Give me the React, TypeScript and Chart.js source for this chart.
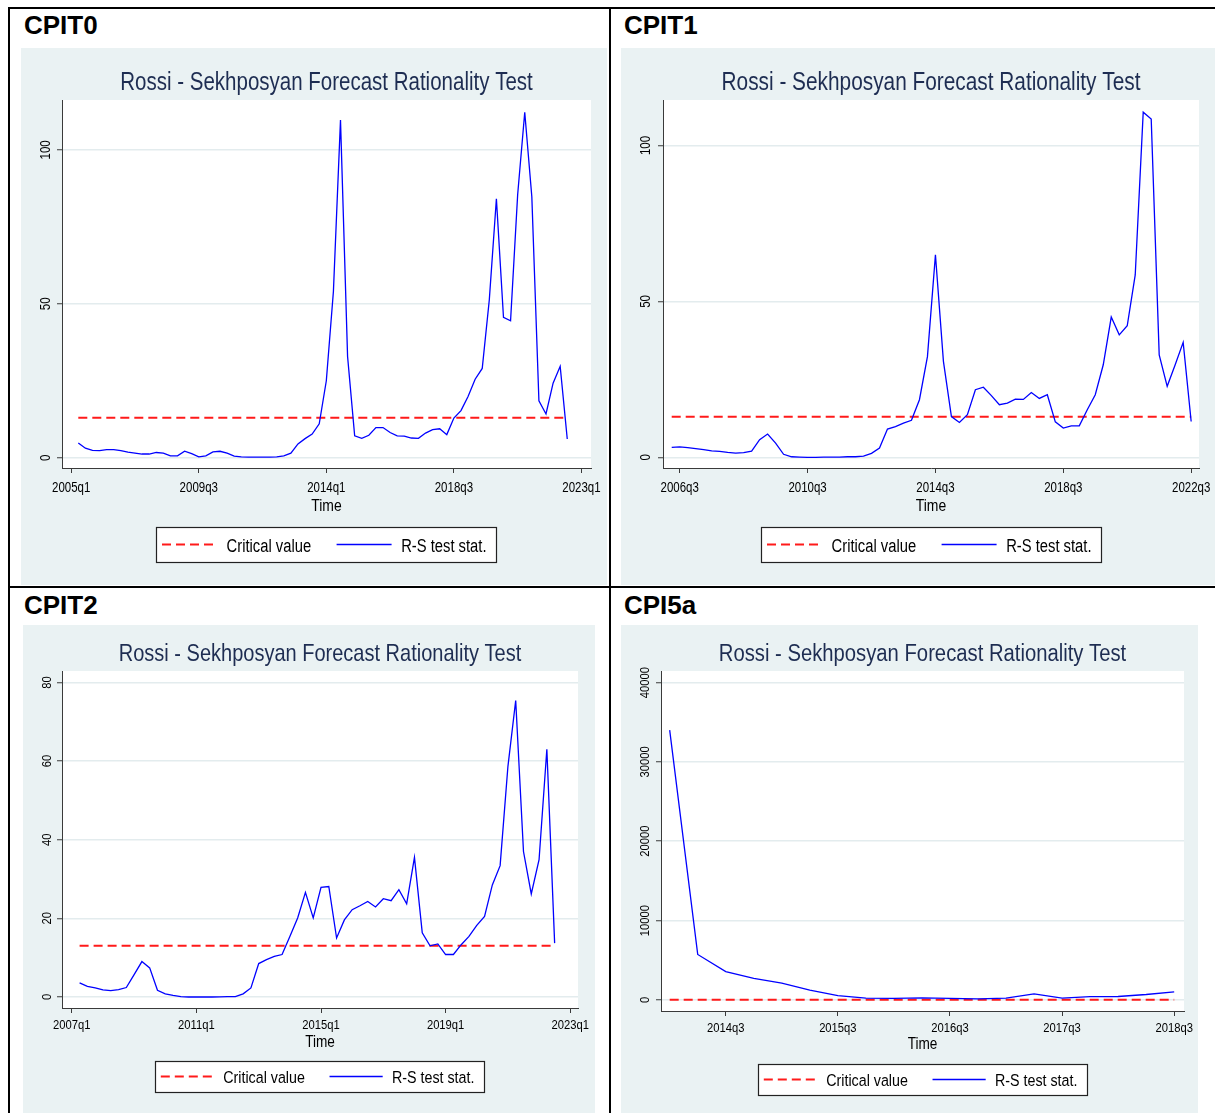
import React, { useEffect, useRef } from "react";
import { Chart, registerables } from "chart.js";

Chart.register(...registerables);

// ---------------- text ----------------
const CHART_TITLE = "Rossi - Sekhposyan Forecast Rationality Test";
const X_AXIS_TITLE = "Time";
const LEGEND_LABELS = ["Critical value", "R-S test stat."];
const PANEL_NAMES = ["CPIT0", "CPIT1", "CPIT2", "CPI5a"];

// ---------------- data ----------------
// CPIT0: quarterly, first observation 2005q2
const CPIT0_START = "2005q2";
const CPIT0_RS_STAT = [
  4.8, 3.1, 2.4, 2.3, 2.6, 2.6, 2.3, 1.8, 1.5, 1.2,
  1.2, 1.7, 1.5, 0.6, 0.6, 2.1, 1.3, 0.3, 0.6, 1.9,
  2.1, 1.5, 0.5, 0.3, 0.2, 0.2, 0.2, 0.2, 0.3, 0.6,
  1.5, 4.5, 6.2, 7.7, 11.0, 25.0, 54.0, 109.7, 32.9, 7.1,
  6.3, 7.3, 9.8, 9.8, 8.2, 7.1, 7.0, 6.4, 6.3, 8.0,
  9.1, 9.4, 7.5, 12.9, 15.3, 19.9, 25.5, 29.0, 51.3, 84.1,
  45.6, 44.5, 85.4, 112.2, 84.8, 18.5, 14.2, 24.2, 29.7, 6.1,
];
const CPIT0_CRITICAL = 13;
const CPIT0_X_TICKS = ["2005q1", "2009q3", "2014q1", "2018q3", "2023q1"];
const CPIT0_Y_TICKS = [0, 50, 100];

// CPIT1: first observation 2006q2
const CPIT1_START = "2006q2";
const CPIT1_RS_STAT = [
  3.2, 3.4, 3.1, 2.8, 2.5, 2.1, 1.9, 1.6, 1.4, 1.5,
  2.0, 5.7, 7.5, 4.6, 1.0, 0.2, 0.1, 0.0, 0.0, 0.1,
  0.1, 0.1, 0.2, 0.2, 0.4, 1.3, 3.0, 9.1, 9.9, 11.0,
  11.9, 18.5, 32.3, 65.0, 30.8, 13.1, 11.2, 13.7, 21.7, 22.5,
  19.8, 16.9, 17.4, 18.7, 18.6, 20.8, 18.9, 20.1, 11.4, 9.4,
  10.1, 10.1, 15.3, 20.1, 29.7, 45.0, 39.3, 42.2, 58.5, 110.7,
  108.5, 32.9, 22.8, 29.7, 36.9, 11.5,
];
const CPIT1_CRITICAL = 13;
const CPIT1_X_TICKS = ["2006q3", "2010q3", "2014q3", "2018q3", "2022q3"];
const CPIT1_Y_TICKS = [0, 50, 100];

// CPIT2: first observation 2007q2
const CPIT2_START = "2007q2";
const CPIT2_RS_STAT = [
  3.6, 2.7, 2.3, 1.8, 1.6, 1.9, 2.4, 5.7, 9.0, 7.4,
  1.7, 0.8, 0.4, 0.1, 0.0, 0.0, 0.0, 0.0, 0.05, 0.1,
  0.1, 0.8, 2.3, 8.5, 9.5, 10.3, 10.8, 15.4, 20.1, 26.6,
  20.1, 27.9, 28.1, 15.0, 19.6, 22.2, 23.2, 24.3, 22.9, 25.0,
  24.5, 27.3, 23.7, 35.5, 16.3, 13.0, 13.5, 10.8, 10.8, 13.3,
  15.4, 18.2, 20.5, 28.5, 33.4, 58.6, 75.4, 37.0, 26.2, 34.9,
  63.0, 13.7,
];
const CPIT2_CRITICAL = 13;
const CPIT2_X_TICKS = ["2007q1", "2011q1", "2015q1", "2019q1", "2023q1"];
const CPIT2_Y_TICKS = [0, 20, 40, 60, 80];

// CPI5a: first observation 2014q1
const CPI5A_START = "2014q1";
const CPI5A_RS_STAT = [
  34000, 5730, 3570, 2710, 2120, 1240, 550, 230, 180, 250,
  180, 130, 230, 760, 230, 400, 430, 680, 1020,
];
const CPI5A_CRITICAL = 13;
const CPI5A_X_TICKS = ["2014q3", "2015q3", "2016q3", "2017q3", "2018q3"];
const CPI5A_Y_TICKS = [0, 10000, 20000, 30000, 40000];

// ---------------- styles ----------------
// Arial-metric face, condensed horizontally to Arial Narrow proportions
const NARROW = "'Liberation Sans', Arial, Helvetica, sans-serif";
const CONDENSE = 0.82;
const LABEL_FONT = "'Liberation Sans', Arial, Helvetica, sans-serif";
const BG = "#EAF2F3";
const GRID = "#E3ECEE";
const AXIS = "#3a3a3a";
const TITLE_COLOR = "#1E2D52";
const BLUE = "#0000FF";
const RED = "#FF1A1A";

const parseQ = (s: string) => {
  const [y, q] = s.split("q");
  return Number(y) * 4 + (Number(q) - 1);
};
const fmtQ = (v: number) => {
  const r = Math.round(v);
  return `${Math.floor(r / 4)}q${(r % 4) + 1}`;
};

type Layout = {
  left: number; top: number; width: number; height: number;
  area: [number, number, number, number];
  xOff: [number, number]; yRange: [number, number];
  titleSize: number; titleBaseline: number;
  tickSize: number; tickBaseline: number;
  timeSize: number; timeBaseline: number;
  yLabelOffset: number;
  legendTop: number; legendH: number; legendSize: number;
  labelLeft: number; labelTop: number;
};

type PanelDef = {
  name: string; start: string; stat: number[]; crit: number;
  xTicks: string[]; yTicks: number[]; layout: Layout;
};

const PANELS: PanelDef[] = [
  {
    name: PANEL_NAMES[0], start: CPIT0_START, stat: CPIT0_RS_STAT, crit: CPIT0_CRITICAL,
    xTicks: CPIT0_X_TICKS, yTicks: CPIT0_Y_TICKS,
    layout: {
      left: 21, top: 48, width: 586, height: 537, area: [62, 100, 591, 468],
      xOff: [-1.3, 73.35], yRange: [-3.34, 116.2],
      titleSize: 25, titleBaseline: 91.4, tickSize: 14, tickBaseline: 493,
      timeSize: 17, timeBaseline: 512, yLabelOffset: 16,
      legendTop: 527, legendH: 34.5, legendSize: 18, labelLeft: 24, labelTop: 11.6,
    },
  },
  {
    name: PANEL_NAMES[1], start: CPIT1_START, stat: CPIT1_RS_STAT, crit: CPIT1_CRITICAL,
    xTicks: CPIT1_X_TICKS, yTicks: CPIT1_Y_TICKS,
    layout: {
      left: 621, top: 48, width: 594, height: 537, area: [663, 100, 1199, 468],
      xOff: [-2.09, 64.98], yRange: [-3.4, 114.6],
      titleSize: 25.4, titleBaseline: 91.4, tickSize: 14, tickBaseline: 493,
      timeSize: 17, timeBaseline: 512, yLabelOffset: 17.3,
      legendTop: 527, legendH: 34.5, legendSize: 18, labelLeft: 624, labelTop: 11.6,
    },
  },
  {
    name: PANEL_NAMES[2], start: CPIT2_START, stat: CPIT2_RS_STAT, crit: CPIT2_CRITICAL,
    xTicks: CPIT2_X_TICKS, yTicks: CPIT2_Y_TICKS,
    layout: {
      left: 23, top: 625, width: 572, height: 488, area: [62, 671, 578, 1008],
      xOff: [-1.26, 65.0], yRange: [-2.8, 82.9],
      titleSize: 24.4, titleBaseline: 663, tickSize: 13.7, tickBaseline: 1030,
      timeSize: 16.6, timeBaseline: 1048, yLabelOffset: 15,
      legendTop: 1060.5, legendH: 31.2, legendSize: 17.4, labelLeft: 24, labelTop: 591.6,
    },
  },
  {
    name: PANEL_NAMES[3], start: CPI5A_START, stat: CPI5A_RS_STAT, crit: CPI5A_CRITICAL,
    xTicks: CPI5A_X_TICKS, yTicks: CPI5A_Y_TICKS,
    layout: {
      left: 621, top: 625, width: 577, height: 488, area: [661, 671, 1184, 1011],
      xOff: [-2.31, 16.35], yRange: [-1400, 41460],
      titleSize: 24.7, titleBaseline: 663, tickSize: 13.7, tickBaseline: 1033,
      timeSize: 16.6, timeBaseline: 1050.5, yLabelOffset: 15.5,
      legendTop: 1063.5, legendH: 31, legendSize: 17.4, labelLeft: 624, labelTop: 591.6,
    },
  },
];

// Makes every text drawn on this chart's canvas use narrow (condensed) proportions.
const condensePlugin = {
  id: "condenseText",
  beforeDraw(chart: any) {
    const ctx = chart.ctx;
    if (ctx.__condensed) return;
    const orig = ctx.fillText.bind(ctx);
    ctx.fillText = (text: string, x: number, y: number, maxWidth?: number) => {
      const w = ctx.measureText(text).width * CONDENSE;
      const mw = maxWidth !== undefined && maxWidth !== null ? Math.min(maxWidth, w) : w;
      orig(text, x, y, Math.max(mw, 0.01));
    };
    ctx.__condensed = true;
  },
};

const bgPlugin = {
  id: "stataBg",
  beforeDraw(chart: any) {
    const { ctx, chartArea: a, width, height } = chart;
    ctx.save();
    ctx.fillStyle = BG;
    ctx.fillRect(0, 0, width, height);
    ctx.fillStyle = "#ffffff";
    ctx.fillRect(a.left, a.top, a.right - a.left, a.bottom - a.top);
    ctx.restore();
  },
};

const legendPlugin = {
  id: "stataLegend",
  afterDraw(chart: any, _args: any, opts: any) {
    const { ctx, chartArea } = chart;
    const fs = opts.fontSize;
    const s = fs / 18;
    ctx.save();
    ctx.font = `${fs}px ${NARROW}`;
    const w1 = ctx.measureText(LEGEND_LABELS[0]).width * CONDENSE;
    const w2 = ctx.measureText(LEGEND_LABELS[1]).width * CONDENSE;
    const padL = 6 * s, sample = 55 * s, gapT = 9.6 * s, gapI = 25.5 * s, padR = 10 * s;
    const total = padL + sample + gapT + w1 + gapI + sample + gapT + w2 + padR;
    const cx = (chartArea.left + chartArea.right) / 2;
    const x0 = Math.round(cx - total / 2);
    const y0 = Math.round(opts.top);
    const h = Math.round(opts.height);
    ctx.fillStyle = "#ffffff";
    ctx.fillRect(x0, y0, Math.round(total), h);
    ctx.strokeStyle = "#222222";
    ctx.lineWidth = 1.2;
    ctx.strokeRect(x0 + 0.5, y0 + 0.5, Math.round(total), h);
    const cy = y0 + h / 2;
    let x = x0 + padL;
    ctx.beginPath();
    ctx.strokeStyle = RED;
    ctx.lineWidth = 2;
    ctx.setLineDash([9, 5]);
    ctx.moveTo(x, cy);
    ctx.lineTo(x + sample, cy);
    ctx.stroke();
    ctx.setLineDash([]);
    x += sample + gapT;
    ctx.fillStyle = "#000000";
    ctx.textBaseline = "alphabetic";
    ctx.textAlign = "left";
    ctx.fillText(LEGEND_LABELS[0], x, cy + 0.39 * fs);
    x += w1 + gapI;
    ctx.beginPath();
    ctx.strokeStyle = BLUE;
    ctx.lineWidth = 1.3;
    ctx.moveTo(x, cy);
    ctx.lineTo(x + sample, cy);
    ctx.stroke();
    x += sample + gapT;
    ctx.fillText(LEGEND_LABELS[1], x, cy + 0.39 * fs);
    ctx.restore();
  },
};

function Panel({ p }: { p: PanelDef }) {
  const ref = useRef<HTMLCanvasElement>(null);
  useEffect(() => {
    const L = p.layout;
    const areaL = L.area[0] - L.left;
    const areaT = L.area[1] - L.top;
    const areaR = L.area[2] - L.left;
    const areaB = L.area[3] - L.top;
    const TL = 5;

    const m = document.createElement("canvas").getContext("2d")!;
    m.font = `${L.tickSize}px ${NARROW}`;
    const widest = Math.max(...p.yTicks.map((v) => m.measureText(String(v)).width));
    const yPad = L.yLabelOffset - TL - widest / 2;
    const xPad = L.tickBaseline - L.area[3] - TL - 0.6 * L.tickSize - 0.3465 * L.tickSize;

    const xScaleH = L.timeBaseline - L.area[3] + 10;
    const timeLH = 1.2 * L.timeSize;
    const timePadB = L.area[3] + xScaleH - timeLH / 2 - (L.timeBaseline - 0.3465 * L.timeSize);

    const titleLH = 1.2 * L.titleSize;
    const titleMid = L.titleBaseline - 0.3465 * L.titleSize - L.top;
    const titlePadT = titleMid - titleLH / 2;
    const titlePadB = areaT - titlePadT - titleLH;

    const q0 = parseQ(p.start);
    const statPts = p.stat.map((v, i) => ({ x: q0 + i, y: v }));
    const critPts = [
      { x: q0, y: p.crit },
      { x: q0 + p.stat.length - 1, y: p.crit },
    ];
    const xTickVals = p.xTicks.map(parseQ);
    const firstTick = xTickVals[0];

    const chart = new Chart(ref.current!, {
      type: "line",
      data: {
        datasets: [
          {
            label: LEGEND_LABELS[1],
            data: statPts,
            borderColor: BLUE,
            borderWidth: 1.3,
            pointRadius: 0,
            fill: false,
            tension: 0,
            order: 0,
          },
          {
            label: LEGEND_LABELS[0],
            data: critPts,
            borderColor: RED,
            borderWidth: 2,
            borderDash: [9, 5],
            pointRadius: 0,
            fill: false,
            tension: 0,
            order: 1,
          },
        ],
      },
      options: {
        responsive: false,
        animation: false,
        events: [],
        layout: {
          padding: { left: 0, top: 0, right: L.width - areaR, bottom: L.height - areaB - xScaleH },
        },
        plugins: {
          legend: { display: false },
          tooltip: { enabled: false },
          title: {
            display: true,
            text: CHART_TITLE,
            color: TITLE_COLOR,
            fullSize: false,
            font: { family: NARROW, size: L.titleSize, weight: "normal", lineHeight: 1.2 },
            padding: { top: titlePadT, bottom: titlePadB },
          },
          stataLegend: { top: L.legendTop - L.top, height: L.legendH, fontSize: L.legendSize },
        } as any,
        scales: {
          x: {
            type: "linear",
            position: "bottom",
            bounds: "data",
            min: firstTick + L.xOff[0],
            max: firstTick + L.xOff[1],
            grid: {
              display: true, drawOnChartArea: false, drawTicks: true,
              tickLength: TL, tickColor: AXIS, tickWidth: 1,
            },
            border: { display: true, color: AXIS, width: 1 },
            ticks: {
              autoSkip: false, minRotation: 0, maxRotation: 0, padding: xPad, color: "#000",
              font: { family: NARROW, size: L.tickSize, lineHeight: 1.2 },
              callback: (v: any) => fmtQ(Number(v)),
            },
            title: {
              display: true, text: X_AXIS_TITLE, color: "#000",
              font: { family: NARROW, size: L.timeSize, lineHeight: 1.2 },
              padding: { top: 0, bottom: timePadB },
            },
            afterBuildTicks: (s: any) => {
              s.ticks = xTickVals.map((v) => ({ value: v }));
            },
            afterFit: (s: any) => {
              s.height = xScaleH;
              s.paddingLeft = 0; s.paddingRight = 0; s.paddingTop = 0; s.paddingBottom = 0;
            },
          },
          y: {
            type: "linear",
            position: "left",
            bounds: "data",
            min: L.yRange[0],
            max: L.yRange[1],
            grid: {
              display: true, drawOnChartArea: true, color: GRID, lineWidth: 1.5,
              drawTicks: true, tickLength: TL, tickColor: AXIS, tickWidth: 1,
            },
            border: { display: true, color: AXIS, width: 1 },
            ticks: {
              autoSkip: false, minRotation: 90, maxRotation: 90, crossAlign: "center",
              padding: yPad, color: "#000",
              font: { family: NARROW, size: L.tickSize, lineHeight: 1.2 },
              callback: (v: any) => String(v),
            },
            afterBuildTicks: (s: any) => {
              s.ticks = p.yTicks.map((v) => ({ value: v }));
            },
            afterFit: (s: any) => {
              s.width = areaL;
              s.paddingLeft = 0; s.paddingRight = 0; s.paddingTop = 0; s.paddingBottom = 0;
            },
          },
        } as any,
      },
      plugins: [condensePlugin, bgPlugin, legendPlugin],
    } as any);
    return () => chart.destroy();
  }, [p]);

  const L = p.layout;
  return (
    <>
      <div
        style={{
          position: "absolute", left: L.labelLeft, top: L.labelTop,
          font: `bold 26px ${LABEL_FONT}`, lineHeight: "26px", color: "#000", whiteSpace: "nowrap",
        }}
      >
        {p.name}
      </div>
      <canvas
        ref={ref}
        width={L.width}
        height={L.height}
        style={{ position: "absolute", left: L.left, top: L.top, width: L.width, height: L.height }}
      />
    </>
  );
}

const line = (left: number, top: number, width: number, height: number) => (
  <div style={{ position: "absolute", left, top, width, height, background: "#000" }} />
);

export default function App() {
  return (
    <div
      style={{
        position: "absolute", left: 0, top: 0, width: 1215, height: 1113,
        background: "#fff", overflow: "hidden",
      }}
    >
      {PANELS.map((p) => (
        <Panel key={p.name} p={p} />
      ))}
      {line(8, 7, 1207, 2)}
      {line(8, 7, 2, 1106)}
      {line(609, 7, 2, 1106)}
      {line(8, 586, 1207, 2)}
    </div>
  );
}
